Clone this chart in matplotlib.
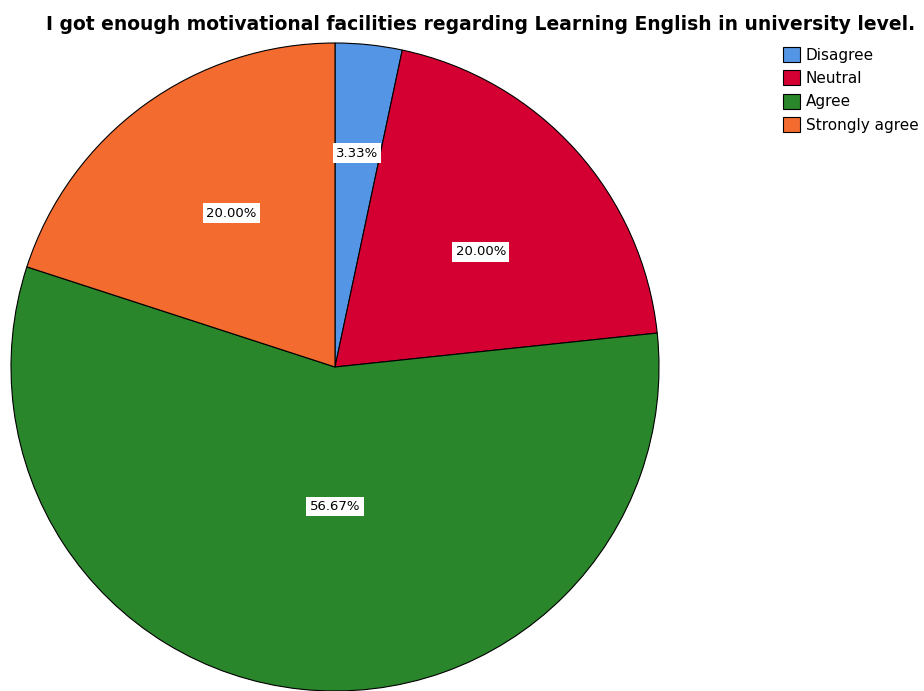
import matplotlib
matplotlib.use("Agg")
import matplotlib.pyplot as plt
from matplotlib.patches import Patch

plt.rcParams['font.family'] = ['DejaVu Sans']

# response shares (percent)
categories = ["Disagree", "Neutral", "Agree", "Strongly agree"]
percents = [3.33, 20.00, 56.67, 20.00]
colors = ["#5595e5", "#d40032", "#2a862a", "#f36b2f"]
# value label offsets from the centre, as fractions of the radius
label_dx = [0.068, 0.45, 0.0, -0.32]
label_dy = [0.66, 0.355, -0.43, 0.475]

W, H = 924, 691
fig = plt.figure(figsize=(W / 100, H / 100), dpi=100)
ax = fig.add_axes([0, 0, 1, 1])

cx, cy, r = 335, H - 367, 324
wedges, _ = ax.pie(percents, colors=colors, startangle=90, counterclock=False,
                   center=(cx, cy), radius=r, frame=True,
                   wedgeprops=dict(edgecolor="black", linewidth=0.8))
ax.set_xlim(0, W)
ax.set_ylim(0, H)
ax.set_aspect("equal")
ax.axis("off")

for p, dx, dy in zip(percents, label_dx, label_dy):
    ax.text(cx + dx * r, cy + dy * r, f"{p:.2f}%",
            ha="center", va="center", fontsize=9.5,
            bbox=dict(boxstyle="square,pad=0.25", fc="white", ec="none"))

fig.text(481 / W, 1 - 25 / H, "I got enough motivational facilities regarding Learning English in university level.",
         ha="center", va="center", fontsize=13.5, fontweight="bold")

handles = [Patch(facecolor=c, edgecolor="black", linewidth=0.8) for c in colors]
fig.legend(handles, categories, loc="upper left", bbox_to_anchor=(783 / W, 1 - 47 / H),
           frameon=False, fontsize=11, handlelength=1.1, handleheight=1.1,
           handletextpad=0.4, labelspacing=0.52, borderpad=0, borderaxespad=0)

fig.savefig("out.png", dpi=100)
